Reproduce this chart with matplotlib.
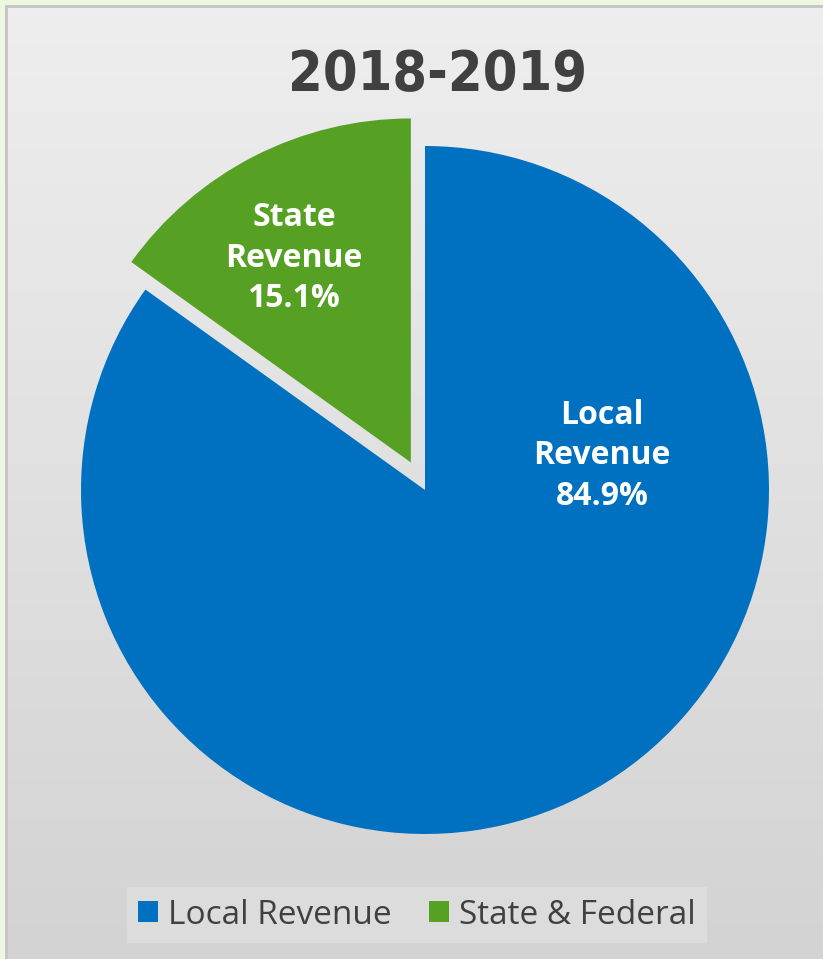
import numpy as np
import matplotlib
matplotlib.use("Agg")
from matplotlib import pyplot as plt
from matplotlib.patches import Patch, Rectangle

title = "2018-2019"
categories = ["Local Revenue", "State & Federal"]
inner_labels = ["Local\nRevenue\n84.9%", "State\nRevenue\n15.1%"]
shares = [84.9, 15.1]
colors = ["#0070c0", "#56a124"]

W, H = 823, 959
fig = plt.figure(figsize=(W / 100, H / 100), dpi=100)
fig.patch.set_facecolor("#eef7e0")

# grey gradient panel
bg = fig.add_axes([7 / W, 0, 1 - 7 / W, 1 - 7 / H])
grad = np.linspace(0, 1, 256).reshape(-1, 1)
bg.imshow(grad, aspect="auto", cmap=matplotlib.colors.LinearSegmentedColormap.from_list(
    "g", ["#eeeeee", "#d3d3d3"]), extent=[0, 1, 0, 1], origin="upper")
bg.set_xlim(0, 1)
bg.set_ylim(0, 1)
bg.axis("off")
fig.add_artist(Rectangle((6 / W, -0.01), 1, 1 - 6 / H + 0.01, transform=fig.transFigure,
                         fill=False, edgecolor="#c4c4c4", linewidth=2))

fig.text(437 / W, 1 - 75 / H, title, ha="center", va="center", fontsize=40,
         fontweight="bold", color="#404040", family=["DejaVu Sans"], fontstretch="condensed")

cx, cy, r = 425, 490, 344
ax = fig.add_axes([(cx - r) / W, (H - cy - r) / H, 2 * r / W, 2 * r / H])
wedges, _ = ax.pie(shares, colors=colors, startangle=90, counterclock=False,
                   explode=[0, 0.09], wedgeprops=dict(linewidth=0))
for w in wedges:
    w.set_clip_on(False)
ax.set_xlim(-1, 1)
ax.set_ylim(-1, 1)
ax.axis("off")

label_pos = [(0.515, 0.10), (-0.381, 0.674)]
for txt, (x, y) in zip(inner_labels, label_pos):
    ax.text(x, y, txt, ha="center", va="center", fontsize=23, fontweight="bold",
            color="white", family=["Open Sans", "DejaVu Sans"], linespacing=1.3)

handles = [Patch(facecolor=c, edgecolor="none") for c in colors]
leg = fig.legend(handles, categories, loc="center", bbox_to_anchor=(417 / W, 1 - 915 / H),
                 ncol=2, frameon=True, fancybox=False, facecolor="#dcdcdc", edgecolor="none",
                 framealpha=1, handlelength=0.6, handleheight=0.6, handletextpad=0.3,
                 columnspacing=1.1, borderpad=0.35,
                 prop=dict(family=["Open Sans", "DejaVu Sans"], size=24))
for t in leg.get_texts():
    t.set_color("#404040")

fig.savefig("out.png", dpi=100, facecolor=fig.get_facecolor())
